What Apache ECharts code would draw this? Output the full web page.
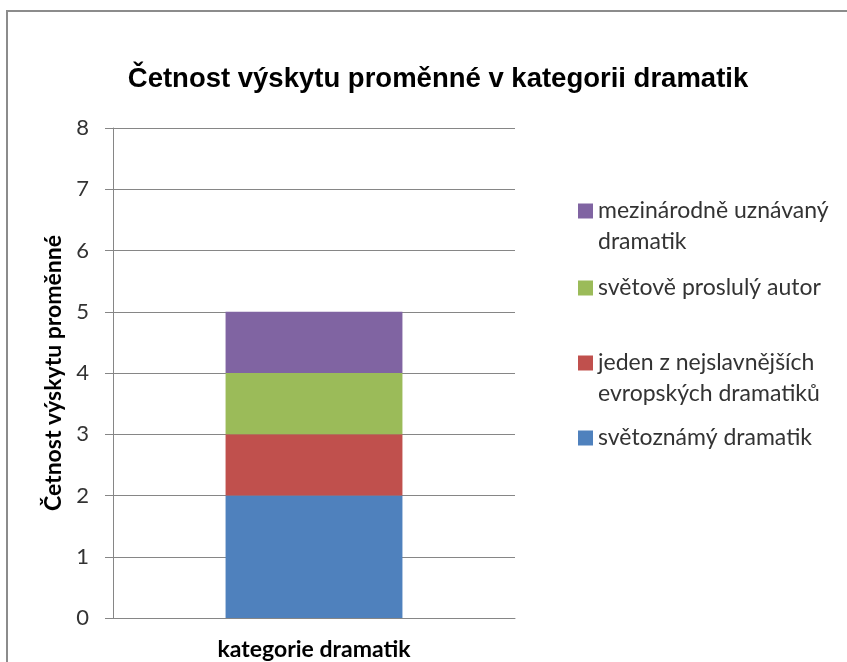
<!DOCTYPE html>
<html lang="cs">
<head>
    <meta charset="UTF-8">
    <title>Četnost výskytu proměnné</title>
    <style>
        html, body { margin: 0; padding: 0; background: white; }
        #fig { width: 847px; height: 662px; }
    </style>
    <script src="https://cdn.jsdelivr.net/npm/echarts@6/dist/echarts.min.js"></script>
</head>
<body>
<div id="fig"></div>
<script>
    // data
    var categories = ['kategorie dramatik'];
    var seriesNames = ['světoznámý dramatik', 'jeden z nejslavnějších evropských dramatiků', 'světově proslulý autor', 'mezinárodně uznávaný dramatik'];
    var legendLabels = ['světoznámý dramatik', 'jeden z nejslavnějších\nevropských dramatiků', 'světově proslulý autor', 'mezinárodně uznávaný\ndramatik'];
    var seriesValues = [[2], [1], [1], [1]];
    var colors = ['#4F81BD', '#C0504D', '#9BBB59', '#8064A2'];
    // y of the first text line of each legend entry
    var legendCenters = [438, 363, 288, 211];

    var labelFont = 'Lato, "Open Sans", sans-serif';
    var lineH = 31;

    var fig = echarts.init(document.getElementById('fig'), null, {renderer: 'canvas'});

    var legends = seriesNames.map(function (name, i) {
        var twoLines = legendLabels[i].indexOf('\n') >= 0;
        // blank line in front so the icon sits beside the first line
        var text = twoLines ? '\n' + legendLabels[i] : legendLabels[i];
        var nLines = twoLines ? 3 : 1;
        return {
            data: [name],
            left: 578,
            top: legendCenters[i] - nLines * lineH / 2,
            orient: 'vertical',
            itemWidth: 15,
            itemHeight: 15,
            itemGap: 4,
            padding: 0,
            icon: 'rect',
            selectedMode: false,
            formatter: function () { return text; },
            textStyle: {fontFamily: labelFont, fontSize: 23, color: '#333', lineHeight: lineH}
        };
    });

    var series = seriesNames.map(function (name, i) {
        return {
            name: name,
            type: 'bar',
            stack: 'total',
            barWidth: '44%',
            itemStyle: {color: colors[i]},
            data: seriesValues[i]
        };
    });

    var option = {
        animation: false,
        color: colors,
        title: {
            text: 'Četnost výskytu proměnné v kategorii dramatik',
            left: 433,
            textAlign: 'center',
            top: 60,
            textStyle: {fontFamily: '"Liberation Sans", Arial, sans-serif', fontSize: 27.5, fontWeight: 'bold', color: '#000'}
        },
        graphic: [{
            type: 'rect',
            shape: {x: 7, y: 11, width: 900, height: 700},
            style: {fill: 'none', stroke: '#8c8c8c', lineWidth: 2}
        }],
        legend: legends,
        grid: {left: 113, right: 332, top: 128, bottom: 44, outerBoundsMode: 'none', containLabel: false},
        xAxis: {
            type: 'category',
            data: categories,
            name: categories[0],
            nameLocation: 'middle',
            nameGap: 20,
            nameTextStyle: {fontFamily: labelFont, fontSize: 23, fontWeight: 'bold', color: '#000'},
            axisLine: {lineStyle: {color: '#868686'}},
            axisTick: {show: false},
            axisLabel: {show: false}
        },
        yAxis: {
            type: 'value',
            min: 0,
            max: 8,
            interval: 1,
            name: 'Četnost výskytu proměnné',
            nameLocation: 'middle',
            nameGap: 48,
            nameTextStyle: {fontFamily: labelFont, fontSize: 23, fontWeight: 'bold', color: '#000'},
            axisLine: {show: true, lineStyle: {color: '#868686'}},
            axisTick: {show: true, length: 8, lineStyle: {color: '#868686'}},
            axisLabel: {fontFamily: labelFont, fontSize: 22, color: '#333', margin: 24},
            splitLine: {lineStyle: {color: '#868686'}}
        },
        series: series
    };
    fig.setOption(option);
</script>
</body>
</html>
